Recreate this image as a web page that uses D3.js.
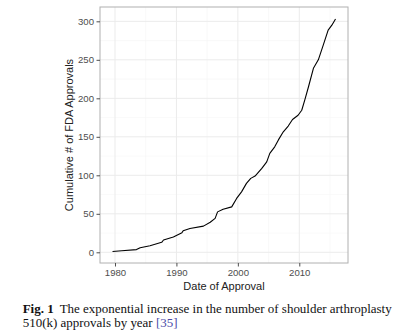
<!DOCTYPE html>
<html>
<head>
<meta charset="utf-8">
<script src="https://cdn.jsdelivr.net/npm/d3@7"></script>
<style>
  html, body { margin: 0; padding: 0; background: #fff; }
  svg { display: block; }
</style>
</head>
<body>
<svg id="chart" width="400" height="336"></svg>
<script>
// ---- data ----
const approvalYear = [1979.6, 1981.1, 1983.5, 1984.1, 1985.7, 1987.6, 1987.9, 1989.5, 1990.9, 1991.1, 1992.2, 1994.4, 1995.5, 1996.3, 1996.7, 1997.6, 1999.0, 1999.8, 2000.6, 2001.4, 2002.1, 2002.8, 2003.9, 2004.7, 2005.2, 2006.0, 2006.6, 2007.4, 2008.2, 2008.9, 2009.8, 2010.4, 2010.9, 2011.5, 2012.3, 2013.1, 2013.9, 2014.7, 2015.3, 2015.9];
const cumulativeCount = [1, 2, 3.5, 6, 8.5, 13, 16, 20, 25.5, 28, 31, 34, 39, 44, 52.5, 56, 59, 70, 78.5, 89.5, 96, 99, 109, 117.5, 128.5, 137, 146, 156.5, 164, 172.5, 178, 184.5, 198, 215, 239, 250, 269, 288.5, 295, 303];
const xMajorTicks = [1980, 1990, 2000, 2010];
const xMinorTicks = [1985, 1995, 2005, 2015];
const yMajorTicks = [0, 50, 100, 150, 200, 250, 300];
const yMinorTicks = [25, 75, 125, 175, 225, 275];
const xTitle = "Date of Approval";
const yTitle = "Cumulative # of FDA Approvals";
const captionBold = "Fig. 1";
const captionLine1 = "The exponential increase in the number of shoulder arthroplasty";
const captionLine2 = "510(k) approvals by year ";
const captionRef = "[35]";

// ---- layout ----
const svg = d3.select("#chart");
const panel = { left: 100, right: 348, top: 7, bottom: 263 };

const x = d3.scaleLinear().domain([1977.56, 2017.93]).range([panel.left, panel.right]);
const y = d3.scaleLinear().domain([-13.9, 318.6]).range([panel.bottom, panel.top]);

const sans = "'Liberation Sans', Arial, Helvetica, sans-serif";
const serif = "'Liberation Serif', 'Times New Roman', serif";

// panel background
svg.append("rect")
  .attr("x", panel.left).attr("y", panel.top)
  .attr("width", panel.right - panel.left).attr("height", panel.bottom - panel.top)
  .attr("fill", "#fff");

// minor grid
const grid = svg.append("g");
grid.selectAll(".xminor").data(xMinorTicks).join("line")
  .attr("x1", d => x(d)).attr("x2", d => x(d))
  .attr("y1", panel.top).attr("y2", panel.bottom)
  .attr("stroke", "#f5f5f5").attr("stroke-width", 0.6);
grid.selectAll(".yminor").data(yMinorTicks).join("line")
  .attr("y1", d => y(d)).attr("y2", d => y(d))
  .attr("x1", panel.left).attr("x2", panel.right)
  .attr("stroke", "#f5f5f5").attr("stroke-width", 0.6);
// major grid
grid.selectAll(".xmajor").data(xMajorTicks).join("line")
  .attr("x1", d => x(d)).attr("x2", d => x(d))
  .attr("y1", panel.top).attr("y2", panel.bottom)
  .attr("stroke", "#ebebeb").attr("stroke-width", 1);
grid.selectAll(".ymajor").data(yMajorTicks).join("line")
  .attr("y1", d => y(d)).attr("y2", d => y(d))
  .attr("x1", panel.left).attr("x2", panel.right)
  .attr("stroke", "#ebebeb").attr("stroke-width", 1);

// line
const line = d3.line().x(d => x(d[0])).y(d => y(d[1])).curve(d3.curveLinear);
const pts = approvalYear.map((yr, i) => [yr, cumulativeCount[i]]);
svg.append("path")
  .datum(pts)
  .attr("d", line)
  .attr("fill", "none")
  .attr("stroke", "#000")
  .attr("stroke-width", 1.1)
  .attr("stroke-linejoin", "round");

// panel border
svg.append("rect")
  .attr("x", panel.left).attr("y", panel.top)
  .attr("width", panel.right - panel.left).attr("height", panel.bottom - panel.top)
  .attr("fill", "none").attr("stroke", "#b0b0b0").attr("stroke-width", 1);

// axes
const xAxis = d3.axisBottom(x).tickValues(xMajorTicks).tickFormat(d3.format("d")).tickSize(3.5).tickPadding(2.5);
const gx = svg.append("g").attr("transform", `translate(0,${panel.bottom})`).call(xAxis);
gx.select(".domain").remove();
gx.selectAll(".tick line").attr("stroke", "#4d4d4d");
gx.selectAll(".tick text").attr("fill", "#4d4d4d").style("font-family", sans).style("font-size", "9.6px");

const yAxis = d3.axisLeft(y).tickValues(yMajorTicks).tickSize(3.5).tickPadding(2.5);
const gy = svg.append("g").attr("transform", `translate(${panel.left},0)`).call(yAxis);
gy.select(".domain").remove();
gy.selectAll(".tick line").attr("stroke", "#4d4d4d");
gy.selectAll(".tick text").attr("fill", "#4d4d4d").style("font-family", sans).style("font-size", "9.6px");

// axis titles
svg.append("text")
  .attr("x", (panel.left + panel.right) / 2).attr("y", 289.5)
  .attr("text-anchor", "middle")
  .style("font-family", sans).style("font-size", "11px").attr("fill", "#222")
  .text(xTitle);
svg.append("text")
  .attr("transform", `translate(72.5,${(panel.top + panel.bottom) / 2}) rotate(-90)`)
  .attr("text-anchor", "middle")
  .style("font-family", sans).style("font-size", "11px").attr("fill", "#222")
  .text(yTitle);

// caption
const cap1 = svg.append("text")
  .attr("x", 22.7).attr("y", 312.5)
  .style("font-family", serif).style("font-size", "12px").attr("fill", "#111");
cap1.append("tspan").style("font-weight", "bold").text(captionBold);
cap1.append("tspan").attr("dx", 6).text(captionLine1);
const cap2 = svg.append("text")
  .attr("x", 22.7).attr("y", 327)
  .style("font-family", serif).style("font-size", "12px").attr("fill", "#111");
cap2.append("tspan").text(captionLine2);
cap2.append("tspan").attr("fill", "#4b4ba8").text(captionRef);

// fit caption line 1 width to reference (~363px)
const w1 = cap1.node().getComputedTextLength();
if (w1 > 0) {
  const fs = 12 * 363 / w1;
  cap1.style("font-size", fs.toFixed(2) + "px");
  cap2.style("font-size", fs.toFixed(2) + "px");
}
</script>
</body>
</html>
